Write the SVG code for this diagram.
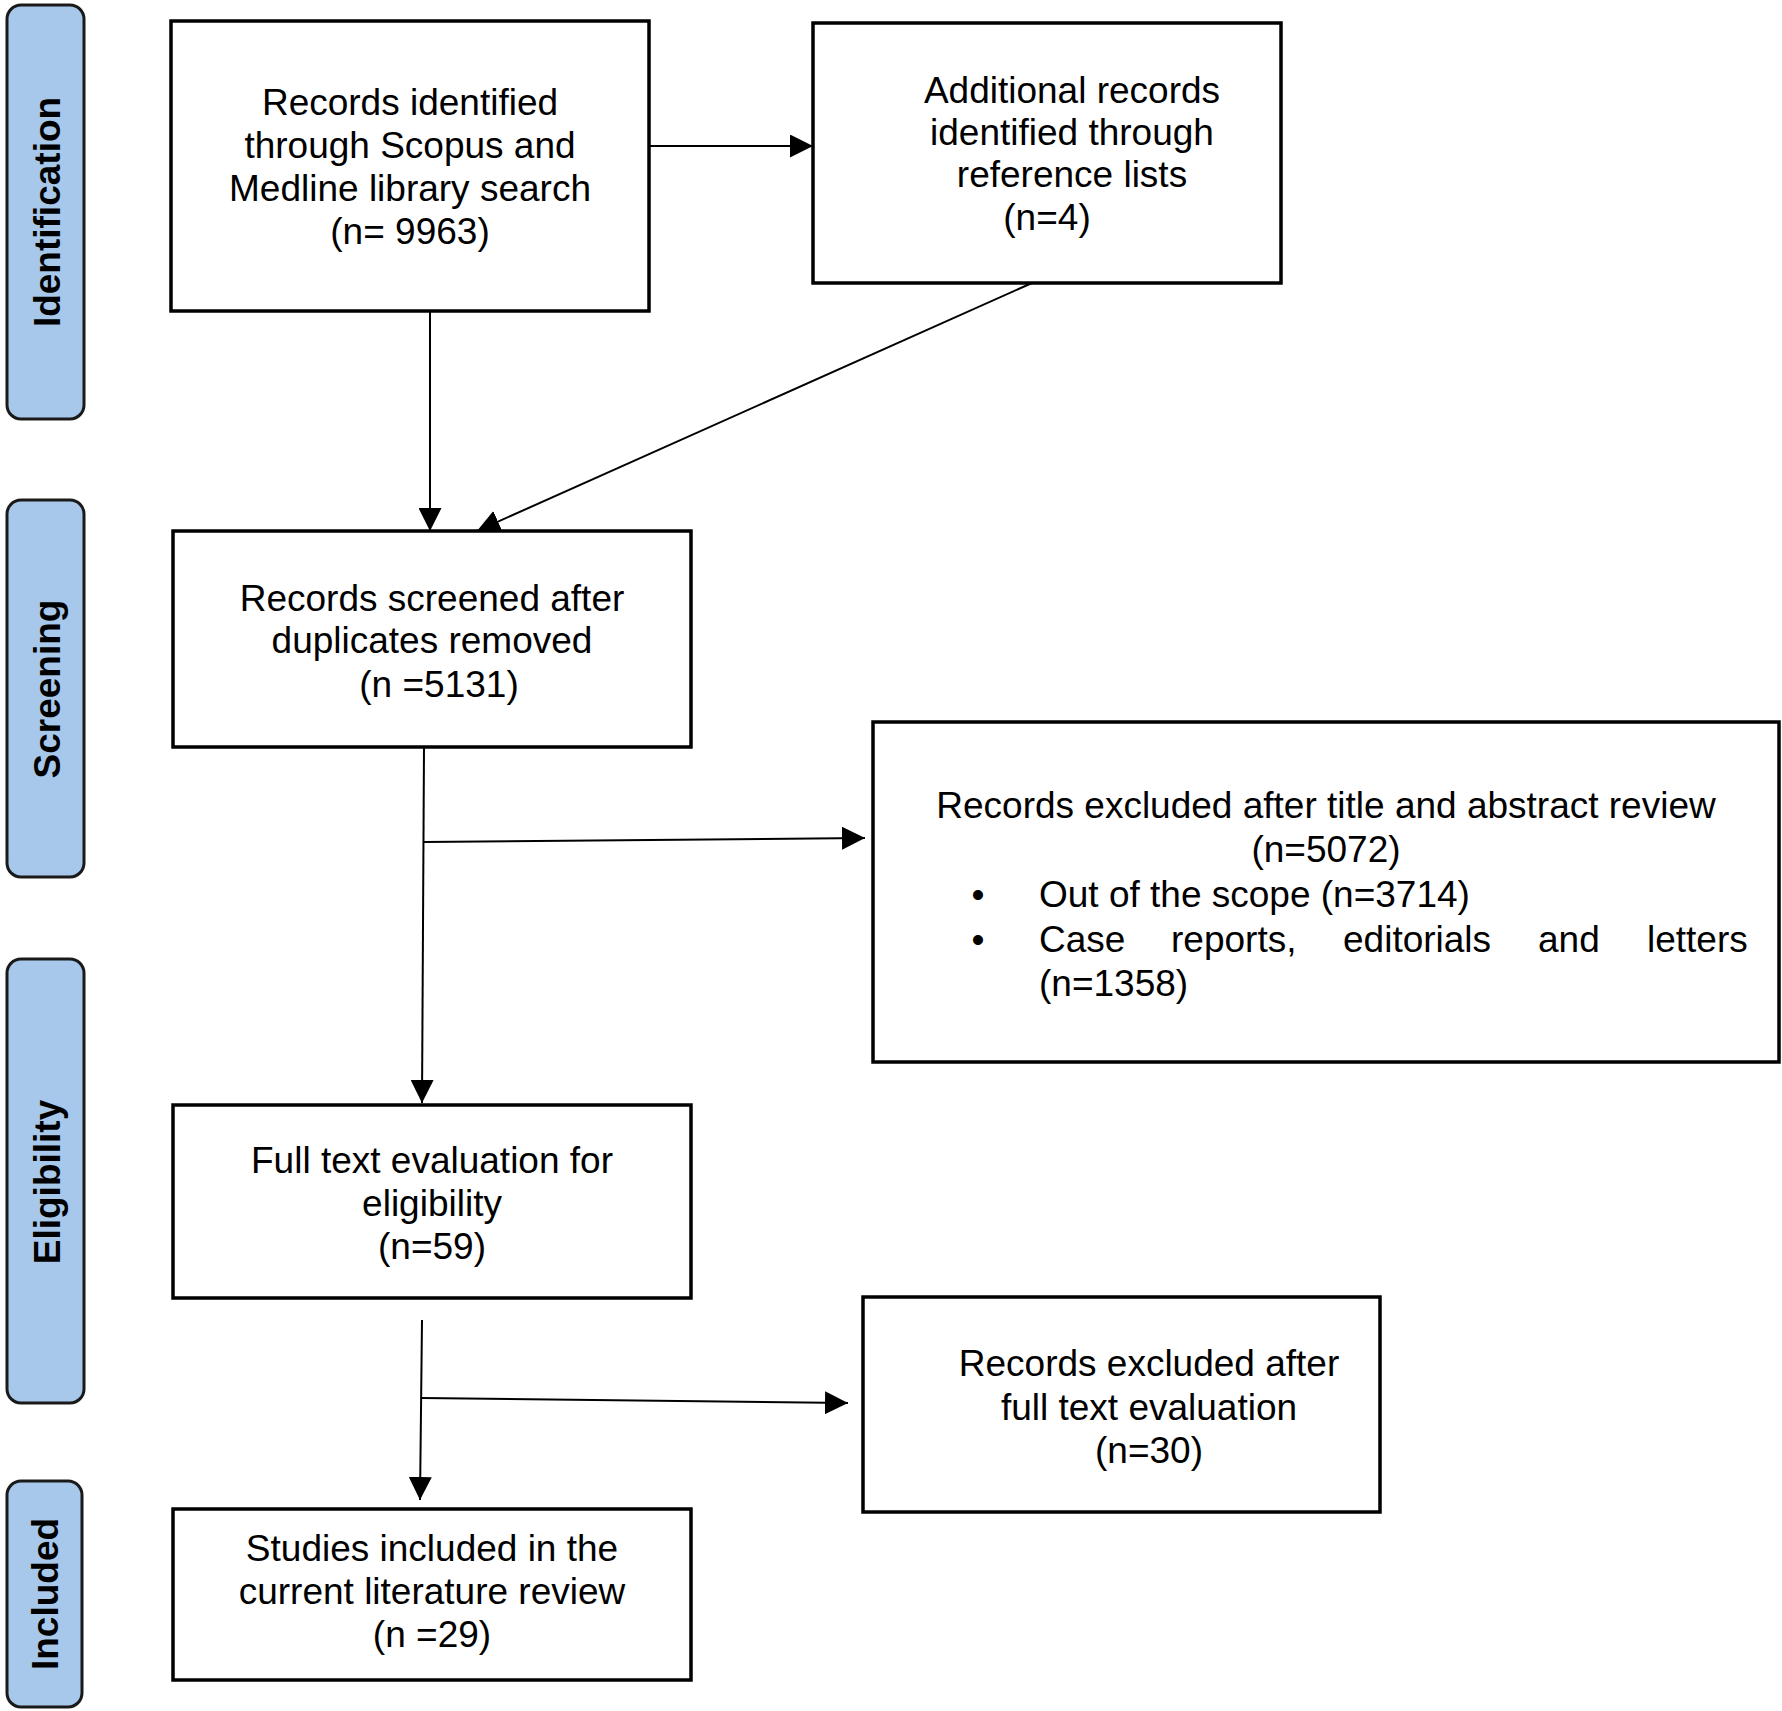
<svg xmlns="http://www.w3.org/2000/svg" width="1782" height="1711" viewBox="0 0 1782 1711">
<style>
.bg{fill:#ffffff}
.phase{fill:#a7c8eb;stroke:#1a1a1a;stroke-width:3}
.phase-t{font-family:"Liberation Sans",Arial,sans-serif;font-weight:bold;font-size:37px;fill:#000;text-anchor:middle}
.box{fill:#ffffff;stroke:#000;stroke-width:3.5}
.t{font-family:"Liberation Sans",Arial,sans-serif;font-size:37px;fill:#000}
.c{text-anchor:middle}
.conn{fill:none;stroke:#000;stroke-width:2}
</style>
<defs>
<marker id="arr" viewBox="0 0 10 10" refX="10" refY="5" markerWidth="23" markerHeight="23" markerUnits="userSpaceOnUse" orient="auto">
<path d="M0,0 L10,5 L0,10 z" fill="#000"/>
</marker>
</defs>
<rect class="bg" x="0" y="0" width="1782" height="1711"/>

<g id="phase-identification">
<rect class="phase" x="7" y="5" width="77" height="414" rx="14"/>
<text class="phase-t" transform="translate(60,212) rotate(-90)">Identification</text>
</g>
<g id="phase-screening">
<rect class="phase" x="7" y="500" width="77" height="377" rx="14"/>
<text class="phase-t" transform="translate(60,689) rotate(-90)">Screening</text>
</g>
<g id="phase-eligibility">
<rect class="phase" x="7" y="959" width="77" height="444" rx="14"/>
<text class="phase-t" transform="translate(60,1182) rotate(-90)">Eligibility</text>
</g>
<g id="phase-included">
<rect class="phase" x="7" y="1481" width="75" height="226" rx="14"/>
<text class="phase-t" transform="translate(58,1594) rotate(-90)">Included</text>
</g>

<g id="connectors">
<path class="conn" d="M649,146 L813,146" marker-end="url(#arr)"/>
<path class="conn" d="M430,311 L430,531" marker-end="url(#arr)"/>
<path class="conn" d="M1032,283 L477,531" marker-end="url(#arr)"/>
<path class="conn" d="M424,747 L422,1103" marker-end="url(#arr)"/>
<path class="conn" d="M424,842 L865,838" marker-end="url(#arr)"/>
<path class="conn" d="M422,1320 L420,1500" marker-end="url(#arr)"/>
<path class="conn" d="M422,1398 L848,1403" marker-end="url(#arr)"/>
</g>

<g id="records-identified">
<rect class="box" x="171" y="21" width="478" height="290"/>
<text class="t c" x="410" y="115">Records identified</text>
<text class="t c" x="410" y="158">through Scopus and</text>
<text class="t c" x="410" y="201">Medline library search</text>
<text class="t c" x="410" y="244">(n= 9963)</text>
</g>

<g id="additional-records">
<rect class="box" x="813" y="23" width="468" height="260"/>
<text class="t c" x="1072" y="103">Additional records</text>
<text class="t c" x="1072" y="145">identified through</text>
<text class="t c" x="1072" y="187">reference lists</text>
<text class="t c" x="1047" y="230">(n=4)</text>
</g>

<g id="records-screened">
<rect class="box" x="173" y="531" width="518" height="216"/>
<text class="t c" x="432" y="611">Records screened after</text>
<text class="t c" x="432" y="653">duplicates removed</text>
<text class="t c" x="439" y="697">(n =5131)</text>
</g>

<g id="excluded-title-abstract">
<rect class="box" x="873" y="722" width="906" height="340"/>
<text class="t c" x="1326" y="818">Records excluded after title and abstract review</text>
<text class="t c" x="1326" y="862">(n=5072)</text>
<text class="t c" x="978" y="907">•</text>
<text class="t" x="1039" y="907">Out of the scope (n=3714)</text>
<text class="t c" x="978" y="952">•</text>
<text class="t" y="952"><tspan x="1039">Case</tspan><tspan x="1171">reports,</tspan><tspan x="1343">editorials</tspan><tspan x="1538">and</tspan><tspan x="1647">letters</tspan></text>
<text class="t" x="1039" y="996">(n=1358)</text>
</g>

<g id="full-text-evaluation">
<rect class="box" x="173" y="1105" width="518" height="193"/>
<text class="t c" x="432" y="1173">Full text evaluation for</text>
<text class="t c" x="432" y="1216">eligibility</text>
<text class="t c" x="432" y="1259">(n=59)</text>
</g>

<g id="excluded-full-text">
<rect class="box" x="863" y="1297" width="517" height="215"/>
<text class="t c" x="1149" y="1376">Records excluded after</text>
<text class="t c" x="1149" y="1420">full text evaluation</text>
<text class="t c" x="1149" y="1463">(n=30)</text>
</g>

<g id="studies-included">
<rect class="box" x="173" y="1509" width="518" height="171"/>
<text class="t c" x="432" y="1561">Studies included in the</text>
<text class="t c" x="432" y="1604">current literature review</text>
<text class="t c" x="432" y="1647">(n =29)</text>
</g>
</svg>
